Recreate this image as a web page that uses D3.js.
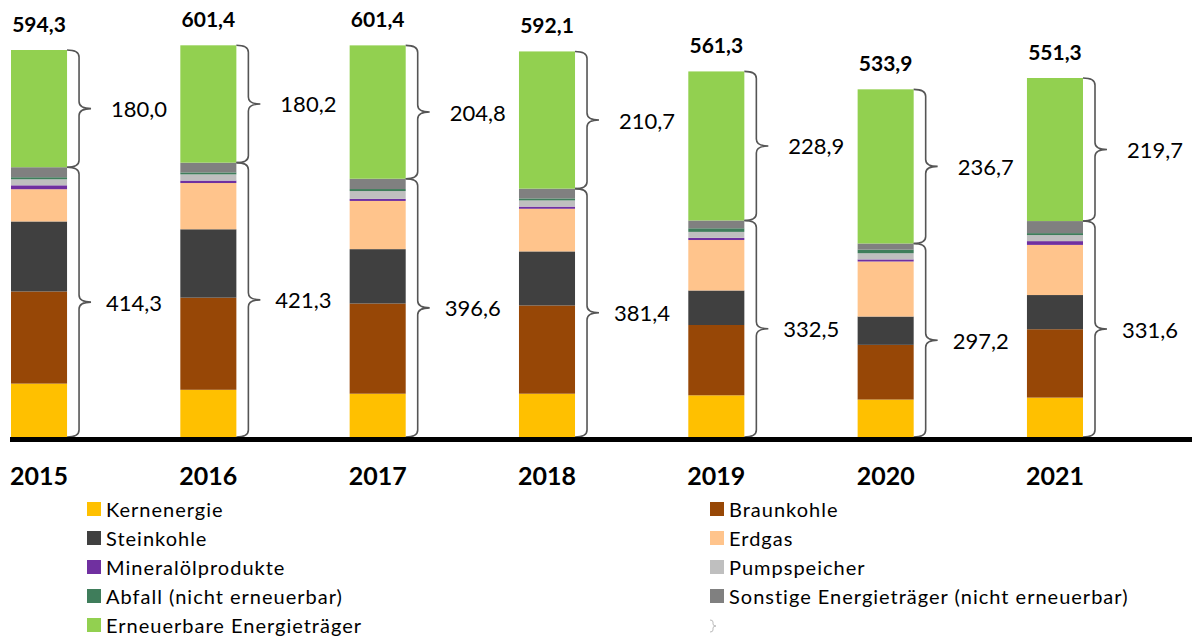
<!DOCTYPE html>
<html>
<head>
<meta charset="utf-8">
<script src="https://cdn.jsdelivr.net/npm/d3@7"></script>
<style>
  body { margin: 0; background: #fff; }
  svg { display: block; font-family: Lato, "Open Sans", sans-serif; }
</style>
</head>
<body>
<div id="chart"></div>
<script>
// Stromerzeugung in TWh
const years = ["2015", "2016", "2017", "2018", "2019", "2020", "2021"];
const kernenergie  = [82.0, 72.5, 66.5, 66.5, 64.0, 57.5, 60.5];
const braunkohle   = [141.5, 141.5, 138.5, 135.5, 108.0, 84.0, 105.0];
const steinkohle   = [107.5, 105.0, 83.5, 83.0, 53.0, 43.5, 52.5];
const erdgas       = [49.5, 71.0, 74.0, 65.5, 77.5, 84.5, 77.0];
const mineraloel   = [6.0, 3.8, 3.2, 3.3, 3.3, 3.2, 5.8];
const pumpspeicher = [9.3, 9.5, 12.0, 9.5, 9.2, 9.5, 9.3];
const abfall       = [3.1, 3.0, 3.1, 3.1, 5.5, 5.5, 3.0];
const sonstige     = [15.4, 15.0, 15.8, 15.0, 12.0, 9.5, 18.5];
const erneuerbar   = [180.0, 180.2, 204.8, 210.7, 228.9, 236.7, 219.7];

// Beschriftungen (Summen)
const totalLabels      = [594.3, 601.4, 601.4, 592.1, 561.3, 533.9, 551.3];
const nonRenewLabels   = [414.3, 421.3, 396.6, 381.4, 332.5, 297.2, 331.6];
const renewLabels      = [180.0, 180.2, 204.8, 210.7, 228.9, 236.7, 219.7];

const series = [
  { key: "Kernenergie", values: kernenergie, color: "#FFC000" },
  { key: "Braunkohle", values: braunkohle, color: "#974706" },
  { key: "Steinkohle", values: steinkohle, color: "#404040" },
  { key: "Erdgas", values: erdgas, color: "#FFC48C" },
  { key: "Mineralölprodukte", values: mineraloel, color: "#7030A0" },
  { key: "Pumpspeicher", values: pumpspeicher, color: "#BFBFBF" },
  { key: "Abfall (nicht erneuerbar)", values: abfall, color: "#3F7D5B" },
  { key: "Sonstige Energieträger (nicht erneuerbar)", values: sonstige, color: "#808080" },
  { key: "Erneuerbare Energieträger", values: erneuerbar, color: "#92D050" }
];

const width = 1192, height = 636;
const fmt = d3.formatLocale({ decimal: ",", thousands: ".", grouping: [3], currency: ["", ""] }).format(".1f");

const rows = years.map((y, i) => {
  const r = { year: y };
  series.forEach(s => r[s.key] = s.values[i]);
  return r;
});
const stacked = d3.stack().keys(series.map(s => s.key))(rows);

const x = d3.scaleBand().domain(years).range([11, 1083]).paddingInner(0.669).paddingOuter(0);
const y = d3.scaleLinear().domain([0, 594.3]).range([437, 50]);
const color = d3.scaleOrdinal(series.map(s => s.key), series.map(s => s.color));

const svg = d3.select("#chart").append("svg")
  .attr("width", width).attr("height", height);

// Balken
svg.append("g").selectAll("g")
  .data(stacked)
  .join("g")
  .attr("fill", d => color(d.key))
  .selectAll("rect")
  .data(d => d)
  .join("rect")
  .attr("x", d => x(d.data.year))
  .attr("width", x.bandwidth())
  .attr("y", d => y(d[1]))
  .attr("height", d => y(d[0]) - y(d[1]));

// geschweifte Klammern
function brace(x0, y1, y2) {
  const q = 12, c = Math.min(7, (y2 - y1) / 4), ym = (y1 + y2) / 2;
  return `M${x0},${y1} Q${x0 + q},${y1} ${x0 + q},${y1 + c}` +
    ` L${x0 + q},${ym - c} Q${x0 + q},${ym} ${x0 + 2 * q},${ym}` +
    ` Q${x0 + q},${ym} ${x0 + q},${ym + c}` +
    ` L${x0 + q},${y2 - c} Q${x0 + q},${y2} ${x0},${y2}`;
}

const nonRenewTop = stacked[stacked.length - 2];
const renewTop = stacked[stacked.length - 1];
const braces = svg.append("g");
years.forEach((yr, i) => {
  const xr = x(yr) + x.bandwidth();
  const yMid = y(nonRenewTop[i][1]);
  const yTop = y(renewTop[i][1]);
  const yBase = y(0);
  braces.append("path")
    .attr("d", brace(xr, yTop, yMid))
    .attr("fill", "none").attr("stroke", "#555").attr("stroke-width", 1.6);
  braces.append("path")
    .attr("d", brace(xr, yMid, yBase))
    .attr("fill", "none").attr("stroke", "#555").attr("stroke-width", 1.6);
  braces.append("text")
    .attr("x", xr + 44).attr("y", (yTop + yMid) / 2)
    .attr("dominant-baseline", "central")
    .attr("font-size", 22).attr("fill", "#000")
    .text(fmt(renewLabels[i]));
  braces.append("text")
    .attr("x", xr + 39).attr("y", (yMid + yBase) / 2)
    .attr("dominant-baseline", "central")
    .attr("font-size", 22).attr("fill", "#000")
    .text(fmt(nonRenewLabels[i]));
  // Summe über dem Balken
  svg.append("text")
    .attr("x", x(yr) + x.bandwidth() / 2).attr("y", yTop - 18)
    .attr("text-anchor", "middle")
    .attr("font-size", 21).attr("font-weight", 700)
    .text(fmt(totalLabels[i]));
});

// x-Achse
const xAxis = svg.append("g")
  .attr("transform", "translate(0,439.5)")
  .call(d3.axisBottom(x).tickSize(0).tickPadding(28));
xAxis.select(".domain").remove();
xAxis.append("line")
  .attr("x1", 10).attr("x2", width).attr("y1", 0).attr("y2", 0)
  .attr("stroke", "#000").attr("stroke-width", 5);
xAxis.selectAll(".tick text")
  .attr("font-family", "Lato, sans-serif")
  .attr("font-size", 25).attr("font-weight", 700).attr("fill", "#000");

// Legende
const legend = svg.append("g");
const legItems = legend.selectAll("g")
  .data(series)
  .join("g")
  .attr("transform", (d, i) => `translate(${i % 2 === 0 ? 87 : 710},${502 + Math.floor(i / 2) * 29})`);
legItems.append("rect")
  .attr("width", 14).attr("height", 14)
  .attr("fill", d => color(d.key));
legItems.append("text")
  .attr("x", 19).attr("y", 7)
  .attr("dominant-baseline", "central")
  .attr("font-size", 20).attr("letter-spacing", 1)
  .text(d => d.key);
// Klammer-Legendeneintrag (ohne Text)
legend.append("path")
  .attr("d", "M710,620 Q713,620 713,622 L713,624 Q713,626 716,626 Q713,626 713,628 L713,630 Q713,632 710,632")
  .attr("fill", "none").attr("stroke", "#bbb").attr("stroke-width", 1);
</script>
</body>
</html>
